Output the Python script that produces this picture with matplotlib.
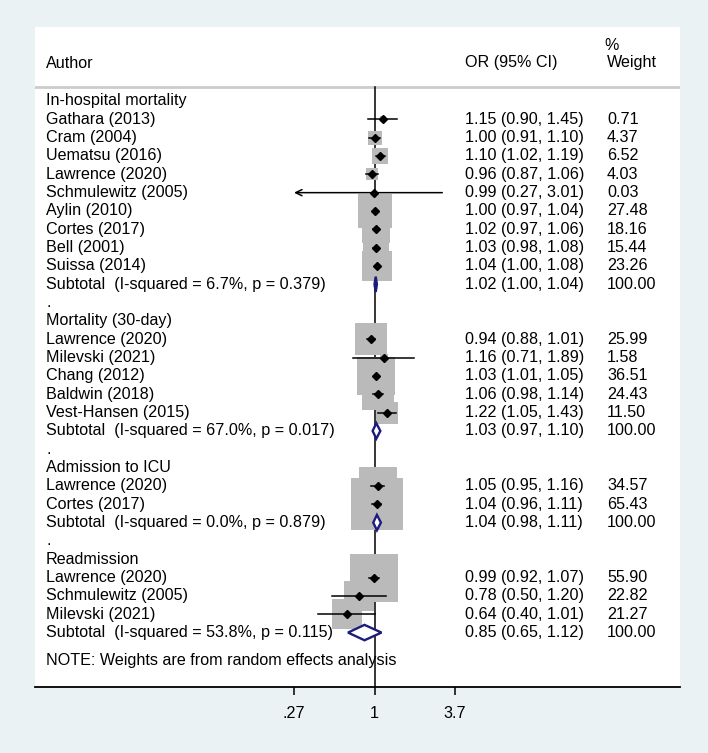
import matplotlib
matplotlib.use("Agg")
import matplotlib.pyplot as plt
import numpy as np

plt.rcParams["font.family"] = ["Liberation Sans", "DejaVu Sans"]

# ---- data ----
group_names = ["In-hospital mortality", "Mortality (30-day)", "Admission to ICU", "Readmission"]

study_names = [
    ["Gathara (2013)", "Cram (2004)", "Uematsu (2016)", "Lawrence (2020)", "Schmulewitz (2005)",
     "Aylin (2010)", "Cortes (2017)", "Bell (2001)", "Suissa (2014)"],
    ["Lawrence (2020)", "Milevski (2021)", "Chang (2012)", "Baldwin (2018)", "Vest-Hansen (2015)"],
    ["Lawrence (2020)", "Cortes (2017)"],
    ["Lawrence (2020)", "Schmulewitz (2005)", "Milevski (2021)"],
]
study_or = [
    [1.15, 1.00, 1.10, 0.96, 0.99, 1.00, 1.02, 1.03, 1.04],
    [0.94, 1.16, 1.03, 1.06, 1.22],
    [1.05, 1.04],
    [0.99, 0.78, 0.64],
]
study_lo = [
    [0.90, 0.91, 1.02, 0.87, 0.27, 0.97, 0.97, 0.98, 1.00],
    [0.88, 0.71, 1.01, 0.98, 1.05],
    [0.95, 0.96],
    [0.92, 0.50, 0.40],
]
study_hi = [
    [1.45, 1.10, 1.19, 1.06, 3.01, 1.04, 1.06, 1.08, 1.08],
    [1.01, 1.89, 1.05, 1.14, 1.43],
    [1.16, 1.11],
    [1.07, 1.20, 1.01],
]
study_wt = [
    [0.71, 4.37, 6.52, 4.03, 0.03, 27.48, 18.16, 15.44, 23.26],
    [25.99, 1.58, 36.51, 24.43, 11.50],
    [34.57, 65.43],
    [55.90, 22.82, 21.27],
]
sub_i2 = [6.7, 67.0, 0.0, 53.8]
sub_p = [0.379, 0.017, 0.879, 0.115]
sub_or = [1.02, 1.03, 1.04, 0.85]
sub_lo = [1.00, 0.97, 0.98, 0.65]
sub_hi = [1.04, 1.10, 1.11, 1.12]

xticks = [0.27, 1, 3.7]
xtick_labels = [".27", "1", "3.7"]

# ---- layout (pixels of the 708x753 picture) ----
W, H = 708, 753
panel_l, panel_r, panel_t, panel_b = 35, 680, 27, 687
row0, row_h = 101, 18.33
x_one, px_per_ln = 374.5, 61.5
fs = 11.6

bg = "#eaf2f3"
grey_box = "#bababa"
navy = "#1c1c7c"

fig = plt.figure(figsize=(W / 100, H / 100), dpi=100, facecolor=bg)
ax = fig.add_axes([panel_l / W, (H - panel_b) / H, (panel_r - panel_l) / W, (panel_b - panel_t) / H])
ax.set_facecolor("white")

ax.set_xscale("log")
ax.set_xlim(np.exp((panel_l - x_one) / px_per_ln), np.exp((panel_r - x_one) / px_per_ln))
ax.set_ylim((panel_b - row0) / row_h, (panel_t - row0) / row_h)


def row_of(py):
    return (py - row0) / row_h


def col(px):
    return (px - panel_l) / (panel_r - panel_l)


tr = ax.get_yaxis_transform()  # x in axes fraction, y in data
x_name, x_est, x_wt = col(46), col(465), col(607)

# header
ax.text(x_name, row_of(63), "Author", transform=tr, fontsize=fs, va="center")
ax.text(x_est, row_of(63), "OR (95% CI)", transform=tr, fontsize=fs, va="center")
ax.text(col(604), row_of(45), "%", transform=tr, fontsize=fs, va="center")
ax.text(x_wt, row_of(63), "Weight", transform=tr, fontsize=fs, va="center")
sep = row_of(87)
ax.axhline(sep, color="#cccccc", lw=2.0, zorder=1)
ax.plot([1, 1], [sep, row_of(panel_b)], color="black", lw=1.1, zorder=1)

box_k = 6.4  # px of square side per sqrt(weight)
r = 0
for g in range(len(group_names)):
    ax.text(x_name, r, group_names[g], transform=tr, fontsize=fs, va="center")
    r += 1
    for name, o, lo, hi, wt in zip(study_names[g], study_or[g], study_lo[g], study_hi[g], study_wt[g]):
        ax.text(x_name, r, name, transform=tr, fontsize=fs, va="center")
        ax.text(x_est, r, f"{o:.2f} ({lo:.2f}, {hi:.2f})", transform=tr, fontsize=fs, va="center")
        ax.text(x_wt, r, f"{wt:.2f}", transform=tr, fontsize=fs, va="center")
        side_pt = box_k * np.sqrt(wt) * 0.72
        ax.scatter([o], [r], marker="s", s=side_pt ** 2, color=grey_box, linewidths=0, zorder=2)
        if lo <= xticks[0]:
            ax.annotate("", xy=(lo, r), xytext=(hi, r),
                        arrowprops=dict(arrowstyle="->,head_length=0.45,head_width=0.22",
                                        color="black", lw=1.1, shrinkA=0, shrinkB=0), zorder=3)
        else:
            ax.plot([lo, hi], [r, r], color="black", lw=1.1, zorder=3)
        ax.plot([o], [r], marker="D", ms=3.9, color="black", zorder=4)
        r += 1
    label = f"Subtotal  (I-squared = {sub_i2[g]:.1f}%, p = {sub_p[g]:.3f})"
    ax.text(x_name, r, label, transform=tr, fontsize=fs, va="center")
    ax.text(x_est, r, f"{sub_or[g]:.2f} ({sub_lo[g]:.2f}, {sub_hi[g]:.2f})", transform=tr, fontsize=fs, va="center")
    ax.text(x_wt, r, "100.00", transform=tr, fontsize=fs, va="center")
    dh = 0.42
    ax.fill([sub_lo[g], sub_or[g], sub_hi[g], sub_or[g]], [r, r - dh, r, r + dh],
            facecolor="white", edgecolor=navy, lw=1.7, zorder=4)
    r += 1
    if g < len(group_names) - 1:
        ax.text(x_name, r, ".", transform=tr, fontsize=fs, va="center")
        r += 1

ax.text(x_name, r + 0.5, "NOTE: Weights are from random effects analysis", transform=tr, fontsize=fs, va="center")

# axis
for s in ["top", "right", "left"]:
    ax.spines[s].set_visible(False)
ax.spines["bottom"].set_linewidth(1.3)
ax.set_yticks([])
ax.set_xticks(xticks)
ax.set_xticklabels(xtick_labels, fontsize=fs)
ax.minorticks_off()
ax.tick_params(axis="x", direction="out", length=6, width=1.1, pad=8)

fig.savefig("out.png", dpi=100, facecolor=bg)
